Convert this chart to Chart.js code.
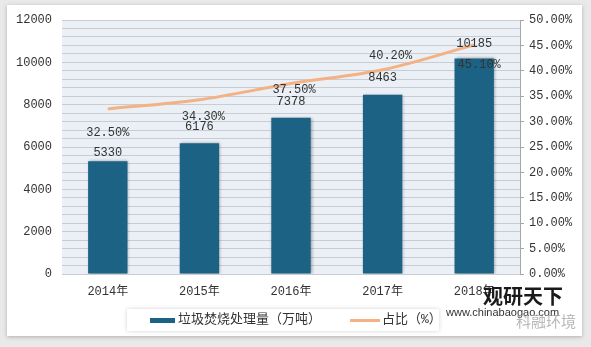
<!DOCTYPE html>
<html lang="zh">
<head>
  <meta charset="utf-8">
  <title>垃圾焚烧处理量及占比</title>
  <script src="https://cdn.jsdelivr.net/npm/chart.js"></script>
  <style>
    html, body { margin: 0; padding: 0; background: #e9e9e9; }
    .card {
      position: absolute; left: 7px; top: 5px; width: 575px; height: 331px;
      background: #fff; box-shadow: 0 1px 4px rgba(0,0,0,0.25);
    }
    .wrap { position: absolute; left: 0; top: 0; width: 591px; height: 347px; }
  </style>
</head>
<body>
<div class="card"></div>
<div class="wrap"><canvas id="chart" width="591" height="347"></canvas></div>

<script>
  const years = ['2014年', '2015年', '2016年', '2017年', '2018年'];
  const volume = [5330, 6176, 7378, 8463, 10185];      // 垃圾焚烧处理量（万吨）
  const share = [32.5, 34.3, 37.5, 40.2, 45.1];        // 占比（%）
  const volumeTicks = [0, 2000, 4000, 6000, 8000, 10000, 12000];
  const shareTicks = [0, 5, 10, 15, 20, 25, 30, 35, 40, 45, 50];

  // label nudges so the text doesn't sit on the line
  const barLabelDy = [-8, -16, -16, -17, -15];
  const pctLabelDx = [0, 4, 3, 8, 5];
  const pctLabelDy = [24, 17, 6, -14, 20];

  const mono = "'Liberation Mono', 'Noto Sans CJK SC', monospace";

  const valueLabels = {
    id: 'valueLabels',
    afterDatasetsDraw(chart) {
      const ctx = chart.ctx;
      const bars = chart.getDatasetMeta(0).data;
      const pts = chart.getDatasetMeta(1).data;
      ctx.save();
      ctx.font = '12px ' + mono;
      ctx.fillStyle = '#333';
      ctx.textAlign = 'center';
      ctx.textBaseline = 'middle';
      bars.forEach((b, i) => ctx.fillText(String(volume[i]), b.x, b.y + barLabelDy[i]));
      pts.forEach((p, i) => ctx.fillText(share[i].toFixed(2) + '%', p.x + pctLabelDx[i], p.y + pctLabelDy[i]));
      ctx.restore();
    }
  };

  const plotBg = {
    id: 'plotBg',
    beforeDraw(chart) {
      const a = chart.chartArea, ctx = chart.ctx;
      ctx.save();
      ctx.fillStyle = '#eaf0f6';
      ctx.fillRect(a.left, a.top, a.right - a.left, a.bottom - a.top);
      ctx.restore();
    }
  };

  const barShadow = {
    id: 'barShadow',
    beforeDatasetDraw(chart, args) {
      if (args.index !== 0) return;
      const ctx = chart.ctx;
      ctx.save();
      ctx.shadowColor = 'rgba(0,0,0,0.35)';
      ctx.shadowBlur = 3;
      ctx.shadowOffsetX = 1;
      ctx.shadowOffsetY = 0;
    },
    afterDatasetDraw(chart, args) {
      if (args.index === 0) chart.ctx.restore();
    }
  };

  // legend box at the bottom plus the source mark
  const footer = {
    id: 'footer',
    afterDraw(chart) {
      const ctx = chart.ctx;
      ctx.save();
      ctx.shadowColor = 'rgba(0,0,0,0.18)';
      ctx.shadowBlur = 4;
      ctx.fillStyle = '#fff';
      ctx.fillRect(127, 309, 312, 22);
      ctx.restore();

      ctx.save();
      ctx.fillStyle = '#1b6284';
      ctx.fillRect(150, 318, 25, 5);
      ctx.strokeStyle = '#f4b183';
      ctx.lineWidth = 3;
      ctx.beginPath();
      ctx.moveTo(350, 320.5);
      ctx.lineTo(380, 320.5);
      ctx.stroke();
      ctx.font = '13px ' + mono;
      ctx.fillStyle = '#333';
      ctx.textBaseline = 'middle';
      ctx.fillText('垃圾焚烧处理量（万吨）', 178, 320);
      ctx.fillText('占比（%）', 382, 320);

      ctx.font = 'bold 20px "Noto Sans CJK SC"';
      ctx.fillStyle = '#1a1a1a';
      ctx.fillText('观研天下', 483, 296);
      ctx.font = '11px "Liberation Sans", sans-serif';
      ctx.fillStyle = '#333';
      ctx.fillText('www.chinabaogao.com', 446, 313);
      ctx.font = '15px "Noto Sans CJK SC"';
      ctx.fillStyle = 'rgba(160,160,160,0.75)';
      ctx.fillText('科融环境', 516, 321);
      ctx.restore();
    }
  };

  new Chart(document.getElementById('chart'), {
    data: {
      labels: years,
      datasets: [
        {
          type: 'bar',
          label: '垃圾焚烧处理量（万吨）',
          data: volume,
          backgroundColor: '#1b6284',
          barPercentage: 0.43,
          categoryPercentage: 1,
          yAxisID: 'y',
          order: 2
        },
        {
          type: 'line',
          label: '占比（%）',
          data: share,
          borderColor: '#f4b183',
          borderWidth: 3,
          tension: 0.35,
          pointRadius: 0,
          yAxisID: 'y2',
          order: 1
        }
      ]
    },
    options: {
      responsive: false,
      animation: false,
      layout: { padding: { top: 20, left: 0, right: 0, bottom: 0 } },
      plugins: {
        legend: { display: false },
        tooltip: { enabled: false }
      },
      scales: {
        x: {
          grid: { display: false, drawTicks: false },
          border: { display: false },
          ticks: { color: '#333', font: { family: mono, size: 12 }, padding: 11 },
          afterFit: s => { s.height = 73; }
        },
        y: {
          position: 'left',
          min: 0,
          max: 12000,
          afterBuildTicks: s => {
            // thin stripes every 400, labels only on the main steps
            const t = [];
            for (let v = 0; v <= 12000; v += 400) t.push({ value: v });
            s.ticks = t;
          },
          ticks: {
            autoSkip: false,
            color: '#333',
            font: { family: mono, size: 12 },
            padding: 10,
            callback: v => volumeTicks.includes(v) ? String(v) : ''
          },
          grid: { color: '#c9cdd3', lineWidth: 1, drawTicks: false },
          border: { display: false },
          afterFit: s => { s.width = 62; }
        },
        y2: {
          position: 'right',
          min: 0,
          max: 50,
          afterBuildTicks: s => { s.ticks = shareTicks.map(v => ({ value: v })); },
          ticks: {
            color: '#333',
            font: { family: mono, size: 12 },
            padding: 5,
            callback: v => v.toFixed(2) + '%'
          },
          grid: { drawOnChartArea: false, color: '#a6a6a6', tickLength: 4 },
          border: { display: true, color: '#a6a6a6' },
          afterFit: s => { s.width = 71; }
        }
      }
    },
    plugins: [plotBg, barShadow, valueLabels, footer]
  });
</script>
</body>
</html>
